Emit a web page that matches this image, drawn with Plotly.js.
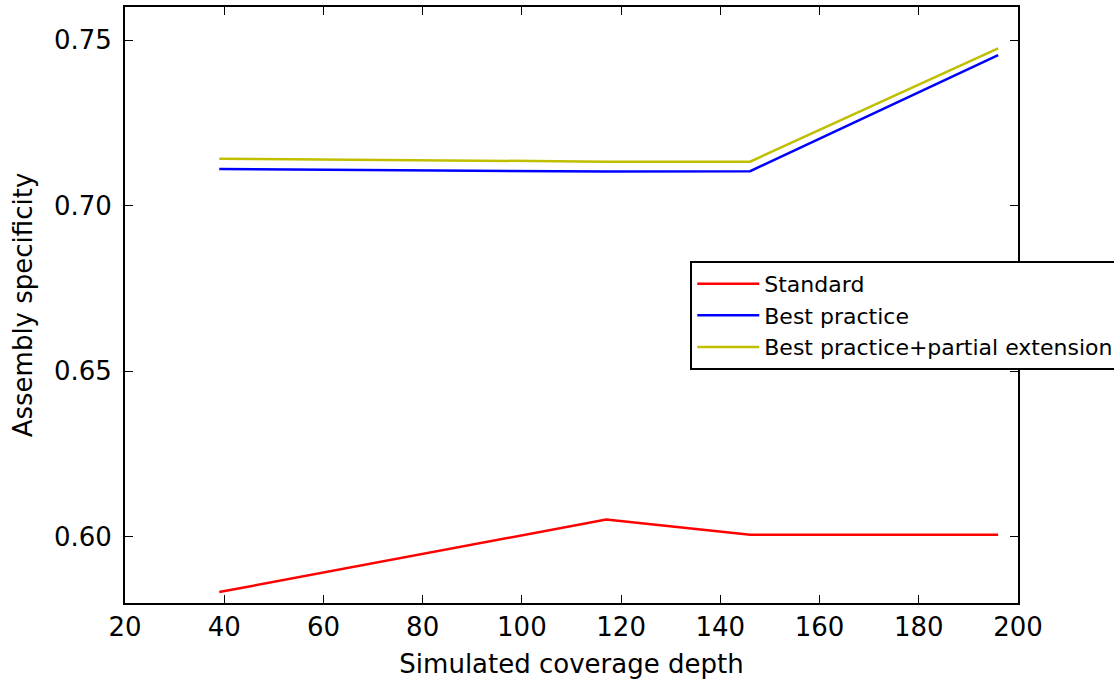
<!DOCTYPE html>
<html>
<head>
<meta charset="utf-8">
<script src="https://cdn.plot.ly/plotly-3.0.1.min.js"></script>
<style>html,body{margin:0;padding:0;background:#fff;}#chart{width:1114px;height:683px;}</style>
</head>
<body>
<div id="chart"></div>
<script>
var depth = [39, 117, 146, 196];
var standard = [0.5833, 0.6052, 0.6006, 0.6006];
var bestPractice = [0.7111, 0.7103, 0.7104, 0.7455];
var bestPartial = [0.7142, 0.7133, 0.7133, 0.7475];
var seriesNames = ["Standard", "Best practice", "Best practice+partial extension"];
var seriesColors = ["#ff0000", "#0000ff", "#bfbf00"];

var traces = [standard, bestPractice, bestPartial].map(function(v, i){
  return {x: depth, y: v, type: "scatter", mode: "lines", name: seriesNames[i],
          line: {color: seriesColors[i], width: 2.5}};
});

var ff = "DejaVu Sans, sans-serif";
var layout = {
  width: 1114, height: 683,
  margin: {l: 125, r: 96, t: 7, b: 80, autoexpand: false},
  paper_bgcolor: "#fff", plot_bgcolor: "#fff",
  font: {family: ff, size: 26, color: "#000"},
  showlegend: true,
  legend: {x: 0.633, y: 0.574, xanchor: "left", yanchor: "top",
           bordercolor: "#000", borderwidth: 2, bgcolor: "#fff", itemwidth: 62,
           font: {family: ff, size: 22, color: "#000"}, tracegroupgap: 0},
  xaxis: {range: [20, 200], dtick: 20, tick0: 20, showgrid: false, zeroline: false,
          showline: true, linecolor: "#000", linewidth: 2, mirror: "allticks",
          ticks: "inside", ticklen: 8, tickwidth: 1, tickcolor: "#000",
          tickfont: {family: ff, size: 26, color: "#000"},
          title: {text: "Simulated coverage depth", font: {family: ff, size: 26, color: "#000"}, standoff: 14}},
  yaxis: {range: [0.58, 0.76], dtick: 0.05, tick0: 0.6, tickformat: ".2f", showgrid: false, zeroline: false,
          showline: true, linecolor: "#000", linewidth: 2, mirror: "allticks",
          ticks: "inside", ticklen: 8, tickwidth: 1, tickcolor: "#000", ticklabelstandoff: 6,
          tickfont: {family: ff, size: 26, color: "#000"},
          title: {text: "Assembly specificity", font: {family: ff, size: 26, color: "#000"}, standoff: 14}}
};
Plotly.newPlot("chart", traces, layout, {displayModeBar: false, staticPlot: true});
</script>
</body>
</html>
